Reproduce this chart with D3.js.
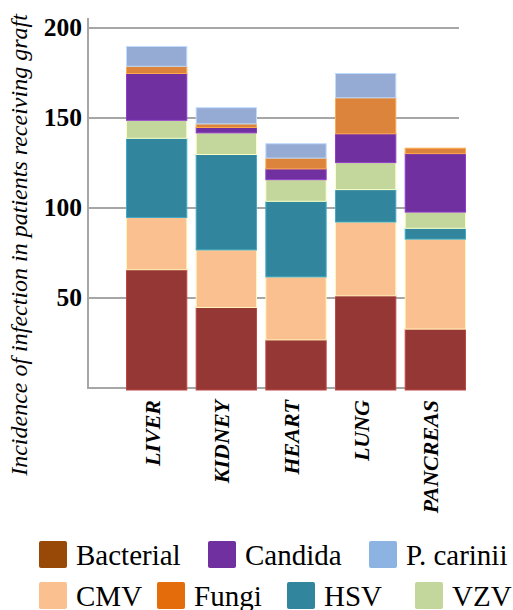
<!DOCTYPE html>
<html>
<head>
<meta charset="utf-8">
<script src="https://cdn.jsdelivr.net/npm/d3@7"></script>
<style>
body { margin: 0; background: #fff; }
</style>
</head>
<body>
<script>
// chart data
var organs = ["LIVER", "KIDNEY", "HEART", "LUNG", "PANCREAS"];
var infections = ["Bacterial", "CMV", "HSV", "VZV", "Candida", "Fungi", "P. carinii"];
var bacterial = [66, 45, 27, 51.5, 33];
var cmv = [29, 32, 35, 41, 50];
var hsv = [44, 53, 42, 18, 6];
var vzv = [10, 12, 12, 15, 9];
var candida = [26, 3, 6, 16, 32.5];
var fungi = [4, 2, 6, 20, 3];
var pcarinii = [11, 9, 8, 13.5, 0];
var yTicks = [50, 100, 150, 200];
var legendNames = ["Bacterial", "Candida", "P. carinii", "CMV", "Fungi", "HSV", "VZV"];

var barColors = {
	"Bacterial": "#953735", "CMV": "#fac090", "HSV": "#31859c", "VZV": "#c3d69b",
	"Candida": "#7030a0", "Fungi": "#dc843c", "P. carinii": "#95abd3"
};
var legendColors = {
	"Bacterial": "#984807", "CMV": "#fac090", "HSV": "#31859c", "VZV": "#c3d69b",
	"Candida": "#7030a0", "Fungi": "#e46c0a", "P. carinii": "#8db3e2"
};
var serif = "Liberation Serif";

var svg = d3.select("body")
	.append("svg")
	.attr("width", 513)
	.attr("height", 610);

var series = [bacterial, cmv, hsv, vzv, candida, fungi, pcarinii];
var table = organs.map(function(o, i) {
	var row = {organ: o};
	infections.forEach(function(k, j) { row[k] = series[j][i]; });
	return row;
});
var stacked = d3.stack().keys(infections)(table);

var x = d3.scaleBand().domain(organs).range([126, 466]).paddingInner(0.12).paddingOuter(0.0);
var y = d3.scaleLinear().domain([0, 200]).range([388, 28]);

// gridlines
svg.append("g")
	.selectAll("line")
	.data([0].concat(yTicks))
	.enter()
	.append("line")
	.attr("x1", 88)
	.attr("x2", 459)
	.attr("y1", function(d) { return y(d); })
	.attr("y2", function(d) { return y(d); })
	.attr("stroke", "#a6a6a6")
	.attr("stroke-width", 2);

// bars
svg.append("g")
	.selectAll("g")
	.data(stacked)
	.enter()
	.append("g")
	.attr("fill", function(d) { return barColors[d.key]; })
	.attr("stroke", function(d) { return d3.color(barColors[d.key]).brighter(0.7); })
	.attr("stroke-width", 1)
	.selectAll("rect")
	.data(function(d) { return d.filter(function(s) { return s[1] - s[0] > 0; }); })
	.enter()
	.append("rect")
	.attr("x", function(d) { return x(d.data.organ) + 0.5; })
	.attr("width", x.bandwidth() - 1)
	.attr("y", function(d) { return y(d[1]) + 0.5; })
	.attr("height", function(d) { return y(d[0]) - y(d[1]) + (d[0] === 0 ? 1.5 : 0); });

// y axis line
svg.append("line")
	.attr("x1", 88).attr("x2", 88)
	.attr("y1", 18).attr("y2", 389)
	.attr("stroke", "#a6a6a6")
	.attr("stroke-width", 2);

// y tick labels
svg.append("g")
	.selectAll("text")
	.data(yTicks)
	.enter()
	.append("text")
	.attr("x", 82)
	.attr("y", function(d) { return y(d) + 8; })
	.attr("text-anchor", "end")
	.attr("font-family", serif)
	.attr("font-size", 25.5)
	.attr("font-weight", "bold")
	.text(function(d) { return d; });

// y title
svg.append("text")
	.attr("transform", "translate(27,245) rotate(-90)")
	.attr("text-anchor", "middle")
	.attr("font-family", serif)
	.attr("font-size", 24)
	.attr("font-style", "italic")
	.text("Incidence of infection in patients receiving graft");

// x labels
svg.append("g")
	.selectAll("text")
	.data(organs)
	.enter()
	.append("text")
	.attr("transform", function(d) {
		return "translate(" + (x(d) + x.bandwidth() / 2 + 3) + ",400) rotate(-90)";
	})
	.attr("text-anchor", "end")
	.attr("font-family", serif)
	.attr("font-size", 22)
	.attr("font-weight", "bold")
	.attr("font-style", "italic")
	.text(function(d) { return d; });

// legend
var legendX = [39, 208, 369, 39, 157, 287, 415];
var legendY = [541, 541, 541, 582, 582, 582, 582];
var legend = svg.append("g")
	.selectAll("g")
	.data(legendNames)
	.enter()
	.append("g")
	.attr("transform", function(d, i) { return "translate(" + legendX[i] + "," + legendY[i] + ")"; });
legend.append("rect")
	.attr("width", 28)
	.attr("height", 27)
	.attr("rx", 2)
	.attr("fill", function(d) { return legendColors[d]; });
legend.append("text")
	.attr("x", 37)
	.attr("y", 24)
	.attr("font-family", serif)
	.attr("font-size", 29)
	.text(function(d) { return d; });
</script>
</body>
</html>
